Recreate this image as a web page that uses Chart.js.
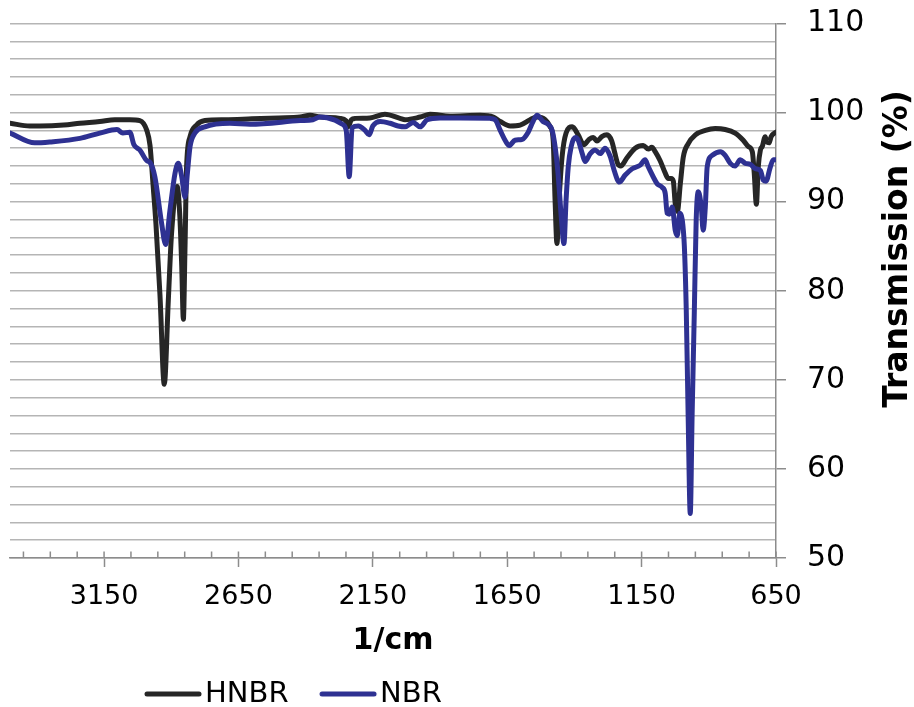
<!DOCTYPE html>
<html>
<head>
<meta charset="utf-8">
<style>
  html, body { margin: 0; padding: 0; background: #fff; overflow: hidden; }
  canvas { display: block; }
</style>
</head>
<body>
<canvas id="chart-ftir" width="914" height="740"></canvas>
<script src="https://cdn.jsdelivr.net/npm/chart.js@4.4.1/dist/chart.umd.min.js"></script>
<script>
// Data (wavenumber in 1/cm, transmission in %)
const seriesNames = ["HNBR", "NBR"];

const hnbrWavenumber = [3500, 3426, 3389, 3300, 3240, 3166, 3110, 3054, 3017, 2991, 2979, 2968, 2957, 2942, 2926, 2911, 2899, 2878, 2868, 2861, 2855, 2849, 2843, 2830, 2806, 2775, 2700, 2600, 2500, 2421, 2384, 2347, 2272, 2250, 2242, 2230, 2215, 2161, 2105, 2049, 2030, 1974, 1937, 1863, 1751, 1702, 1676, 1639, 1602, 1565, 1539, 1509, 1490, 1479, 1472, 1465, 1457, 1446, 1431, 1408, 1386, 1365, 1345, 1330, 1316, 1298, 1279, 1261, 1250, 1238, 1228, 1205, 1174, 1144, 1125, 1112, 1099, 1081, 1062, 1051, 1040, 1032, 1025, 1017, 1006, 995, 977, 950, 913, 876, 839, 802, 772, 753, 738, 731, 723, 716, 708, 701, 690, 684, 676, 668, 656, 650];
const hnbrTransmission = [98.8, 98.5, 98.5, 98.6, 98.8, 99.0, 99.2, 99.2, 99.1, 98.0, 96.3, 92.0, 87.5, 79.5, 69.5, 78.9, 86.4, 91.7, 88.3, 82.7, 76.8, 84.6, 93.9, 97.3, 98.6, 99.1, 99.2, 99.3, 99.4, 99.5, 99.7, 99.5, 99.35, 99.1, 98.4, 99.2, 99.35, 99.4, 99.8, 99.35, 99.2, 99.5, 99.8, 99.6, 99.7, 99.5, 99.0, 98.5, 98.6, 99.2, 99.5, 99.2, 98.4, 96.9, 90.2, 85.3, 90.2, 95.0, 97.7, 98.4, 97.5, 96.4, 97.0, 97.2, 96.8, 97.3, 97.5, 96.8, 95.5, 94.2, 94.0, 94.9, 96.0, 96.3, 95.9, 96.1, 95.6, 94.6, 93.2, 92.6, 92.6, 92.3, 89.8, 88.9, 92.0, 95.0, 96.5, 97.5, 98.0, 98.2, 98.1, 97.7, 96.9, 96.2, 95.6, 93.2, 89.7, 93.9, 95.8, 96.2, 97.3, 96.7, 96.6, 97.3, 97.7, 97.8];

const nbrWavenumber = [3500, 3408, 3352, 3240, 3166, 3102, 3080, 3054, 3039, 3017, 2991, 2979, 2961, 2936, 2921, 2905, 2886, 2874, 2861, 2849, 2840, 2830, 2812, 2775, 2682, 2607, 2421, 2373, 2347, 2291, 2264, 2249, 2238, 2227, 2204, 2179, 2164, 2150, 2123, 2086, 2056, 2030, 2000, 1974, 1948, 1900, 1825, 1714, 1695, 1676, 1658, 1643, 1621, 1594, 1572, 1554, 1539, 1517, 1498, 1483, 1472, 1461, 1449, 1439, 1431, 1423, 1412, 1397, 1386, 1371, 1360, 1341, 1323, 1304, 1286, 1267, 1252, 1233, 1211, 1185, 1155, 1137, 1125, 1107, 1092, 1073, 1062, 1055, 1047, 1036, 1025, 1017, 1008, 999, 991, 984, 977, 969, 962, 954, 947, 939, 928, 921, 913, 906, 887, 857, 839, 820, 802, 783, 764, 746, 727, 708, 697, 687, 672, 660, 650];
const nbrTransmission = [97.7, 96.6, 96.7, 97.1, 97.7, 98.1, 97.7, 97.8, 96.4, 95.8, 94.6, 94.4, 92.8, 87.6, 85.2, 89.0, 93.2, 94.3, 92.8, 90.5, 93.2, 96.2, 97.7, 98.4, 98.8, 98.7, 99.1, 99.2, 99.5, 99.15, 98.7, 98.0, 92.8, 98.3, 98.5, 98.0, 97.5, 98.5, 99.0, 98.8, 98.5, 98.4, 98.9, 98.4, 99.2, 99.4, 99.4, 99.35, 99.2, 98.0, 96.9, 96.3, 96.9, 97.0, 97.8, 99.0, 99.7, 99.0, 98.7, 98.0, 96.2, 93.2, 88.3, 85.3, 90.2, 93.9, 96.2, 97.2, 96.9, 95.4, 94.5, 95.4, 95.8, 95.4, 96.0, 95.1, 93.5, 92.2, 93.0, 93.7, 94.1, 94.7, 93.9, 92.8, 92.0, 91.6, 90.9, 88.7, 88.6, 89.4, 86.8, 86.2, 88.7, 88.0, 85.0, 78.0, 66.2, 55.0, 66.2, 77.5, 87.9, 91.1, 89.4, 86.8, 89.4, 93.9, 95.2, 95.6, 95.2, 94.3, 94.0, 94.7, 94.3, 94.2, 93.7, 93.5, 92.4, 92.3, 93.8, 94.7, 94.7];

// Axis ticks
const xTickValues = [3450, 3350, 3250, 3150, 3050, 2950, 2850, 2750, 2650, 2550, 2450, 2350, 2250, 2150, 2050, 1950, 1850, 1750, 1650, 1550, 1450, 1350, 1250, 1150, 1050, 950, 850, 750, 650];
const xMajorTicks = [3150, 2650, 2150, 1650, 1150, 650];
const yTickValues = [50, 52, 54, 56, 58, 60, 62, 64, 66, 68, 70, 72, 74, 76, 78, 80, 82, 84, 86, 88, 90, 92, 94, 96, 98, 100, 102, 104, 106, 108, 110];
const yMajorTicks = [50, 60, 70, 80, 90, 100, 110];

const axisColor = "#8c8c8c";
const gridColor = "#b5b5b5";
const fontFamily = '"DejaVu Sans", Verdana, sans-serif';

function toPoints(xs, ys) {
  return xs.map((x, i) => ({ x: x, y: ys[i] }));
}

// short line used as legend marker
function legendLine(color) {
  const c = document.createElement("canvas");
  c.width = 60;
  c.height = 8;
  const g = c.getContext("2d");
  g.strokeStyle = color;
  g.lineWidth = 5;
  g.lineCap = "round";
  g.beginPath();
  g.moveTo(4, 4);
  g.lineTo(56, 4);
  g.stroke();
  return c;
}

const axisDecor = {
  id: "axisDecor",
  afterLayout(chart) {
    // place legend like the original (left of centre, under the axis title)
    chart.legend.left = 113.5;
    chart.legend.top = 637.5;
  },
  afterDatasetsDraw(chart) {
    const { ctx, chartArea, scales } = chart;
    ctx.save();
    ctx.strokeStyle = axisColor;
    ctx.lineWidth = 1.5;
    ctx.beginPath();
    xTickValues.forEach((v) => {
      const px = scales.x.getPixelForValue(v);
      ctx.moveTo(px, chartArea.bottom);
      ctx.lineTo(px, chartArea.bottom - 6.5);
    });
    ctx.stroke();

    // y title reads bottom to top on the right side
    ctx.translate(907, 249);
    ctx.rotate(-Math.PI / 2);
    ctx.font = "bold 33px " + fontFamily;
    ctx.fillStyle = "#000";
    ctx.textAlign = "center";
    ctx.textBaseline = "alphabetic";
    ctx.fillText("Transmission (%)", 0, 0);
    ctx.restore();
  },
};

new Chart(document.getElementById("chart-ftir"), {
  type: "line",
  data: {
    datasets: [
      {
        label: seriesNames[0],
        data: toPoints(hnbrWavenumber, hnbrTransmission),
        borderColor: "#262626",
        backgroundColor: "#262626",
        borderWidth: 5,
        pointRadius: 0,
        pointStyle: legendLine("#262626"),
        cubicInterpolationMode: "monotone",
        borderJoinStyle: "round",
        borderCapStyle: "round",
        order: 1,
      },
      {
        label: seriesNames[1],
        data: toPoints(nbrWavenumber, nbrTransmission),
        borderColor: "#2e3192",
        backgroundColor: "#2e3192",
        borderWidth: 5,
        pointRadius: 0,
        pointStyle: legendLine("#2e3192"),
        cubicInterpolationMode: "monotone",
        borderJoinStyle: "round",
        borderCapStyle: "round",
        order: 0, // drawn on top
      },
    ],
  },
  options: {
    responsive: false,
    animation: false,
    layout: { padding: { left: 10, top: 23.5, right: 0, bottom: 0 } },
    plugins: {
      tooltip: { enabled: false },
      legend: {
        position: "bottom",
        align: "start",
        labels: {
          usePointStyle: true,
          pointStyleWidth: 35,
          padding: 42,
          color: "#000",
          font: { family: fontFamily, size: 29 },
          sort: (a, b) => a.datasetIndex - b.datasetIndex,
        },
      },
    },
    scales: {
      x: {
        type: "linear",
        reverse: true,
        min: 650,
        max: 3500,
        afterBuildTicks: (scale) => {
          scale.ticks = xTickValues.map((v) => ({ value: v }));
        },
        afterFit: (scale) => {
          scale.height = 101;
          scale.paddingRight = 0;
        },
        grid: {
          drawOnChartArea: false,
          drawTicks: true,
          tickLength: 9,
          tickWidth: 1.5,
          tickColor: (c) => (xMajorTicks.includes(c.tick && c.tick.value) ? axisColor : "rgba(0,0,0,0)"),
        },
        border: { color: axisColor, width: 1.5 },
        ticks: {
          autoSkip: false,
          maxRotation: 0,
          minRotation: 0,
          padding: 14,
          color: "#000",
          font: { family: fontFamily, size: 27 },
          callback: (v) => (xMajorTicks.includes(v) ? String(v) : ""),
        },
        title: {
          display: true,
          text: "1/cm",
          color: "#000",
          font: { family: fontFamily, size: 30, weight: "bold" },
          padding: { top: 0, bottom: 0 },
        },
      },
      y: {
        type: "linear",
        position: "right",
        min: 50,
        max: 110,
        afterBuildTicks: (scale) => {
          scale.ticks = yTickValues.map((v) => ({ value: v }));
        },
        afterFit: (scale) => {
          scale.width = 138;
          scale.paddingTop = 0;
          scale.paddingBottom = 0;
        },
        grid: {
          color: gridColor,
          lineWidth: 1.5,
          tickLength: 10,
          tickWidth: 1.5,
          tickColor: (c) => (yMajorTicks.includes(c.tick && c.tick.value) ? axisColor : "rgba(0,0,0,0)"),
        },
        border: { color: axisColor, width: 1.5 },
        ticks: {
          autoSkip: false,
          padding: 21,
          color: "#000",
          font: { family: fontFamily, size: 30 },
          callback: (v) => (yMajorTicks.includes(v) ? String(v) : ""),
        },
      },
    },
  },
  plugins: [axisDecor],
});
</script>
</body>
</html>
